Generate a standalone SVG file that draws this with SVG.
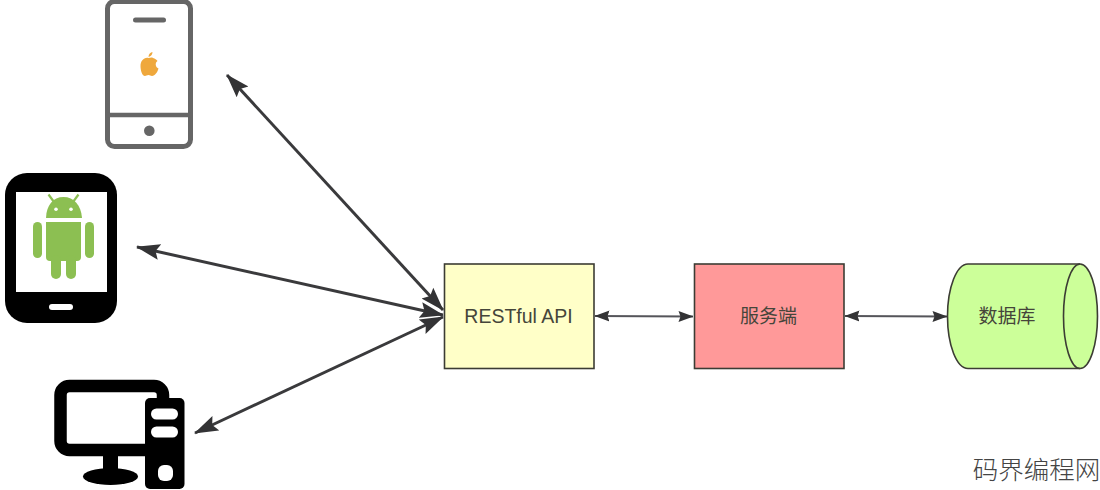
<svg xmlns="http://www.w3.org/2000/svg" width="1100" height="490" viewBox="0 0 1100 490">
<style>
.lbl{font-family:"Liberation Sans","Noto Sans CJK SC",sans-serif;fill:#45453a;text-anchor:middle}
.en{font-size:19.5px}
.cn{font-size:19px}
.box{stroke:#3c3c34;stroke-width:1.6}
.con{stroke:#3a3a3c;fill:none}
.thick{stroke-width:3}
.thin{stroke-width:1.8;stroke:#55555a}
.green{fill:#8cbf52}
</style>
<defs>
<marker id="big" viewBox="0 0 24 18" refX="23" refY="9" markerWidth="24" markerHeight="18" markerUnits="userSpaceOnUse" orient="auto-start-reverse"><path d="M0 1L24 9L0 17L4 9Z" fill="#333335"/></marker>
<marker id="small" viewBox="0 0 15 12" refX="14.500" refY="6" markerWidth="15" markerHeight="12" markerUnits="userSpaceOnUse" orient="auto-start-reverse"><path d="M0 0.500L15 6L0 11.500L2 6Z" fill="#333335"/></marker>
</defs>
<rect width="1100" height="490" fill="#fff"/>
<g id="connectors">
<line class="con thick" x1="227" y1="75" x2="443" y2="310" marker-start="url(#big)" marker-end="url(#big)"/>
<line class="con thick" x1="137" y1="247" x2="443" y2="315" marker-start="url(#big)" marker-end="url(#big)"/>
<line class="con thick" x1="195" y1="433" x2="443" y2="317" marker-start="url(#big)" marker-end="url(#big)"/>
<line class="con thin" x1="595" y1="316" x2="693" y2="316.500" marker-start="url(#small)" marker-end="url(#small)"/>
<line class="con thin" x1="845" y1="316" x2="947" y2="316.500" marker-start="url(#small)" marker-end="url(#small)"/>
</g>
<g id="iphone">
<rect x="107.500" y="1.500" width="83" height="145" rx="7" fill="#fff" stroke="#666" stroke-width="5"/>
<line x1="107" y1="115" x2="191" y2="115" stroke="#666" stroke-width="4.500"/>
<rect x="133" y="17.500" width="33" height="5" rx="2.500" fill="#666"/>
<circle cx="149.300" cy="130.700" r="5.300" fill="#666"/>
<path d="M148.500 58C150 58 151.500 57 153 58C155 58.500 156.500 59.500 157.500 61C155 62.500 155 67 158.500 68.500C157.500 72 155 76 152 76C150.500 76 150 75 148.500 75C147 75 146 76 145 76C142 76 140.500 70 140.500 66C140.500 61 144 57 148.500 58ZM148.500 57C148.500 54 150.500 52.500 152.500 52C152.500 54.500 151 56.500 148.500 57Z" fill="#efa83c"/>
</g>
<g id="android">
<rect x="5" y="173" width="112" height="150" rx="22" fill="#000"/>
<rect x="16" y="192" width="91" height="100" fill="#fff"/>
<rect x="49" y="304" width="24" height="6" rx="3" fill="#fff"/>
<path class="green" d="M46 218C46.500 205 53 197 63.500 197C74 197 81 205 82 218Z"/>
<line x1="54" y1="202" x2="48.500" y2="194.500" stroke="#8cbf52" stroke-width="2.200"/>
<line x1="73" y1="202" x2="78.500" y2="194.500" stroke="#8cbf52" stroke-width="2.200"/>
<circle cx="56" cy="209.300" r="1.800" fill="#fff"/>
<circle cx="71" cy="209.300" r="1.800" fill="#fff"/>
<path class="green" d="M46 222H81V257Q81 261 77 261H50Q46 261 46 257Z"/>
<rect class="green" x="33" y="222" width="9" height="36" rx="4.500"/>
<rect class="green" x="85" y="222" width="9" height="36" rx="4.500"/>
<rect class="green" x="51" y="255" width="10" height="24" rx="5"/>
<rect class="green" x="66" y="255" width="10" height="24" rx="5"/>
</g>
<g id="desktop">
<rect x="60.500" y="386" width="102.500" height="64" rx="9" fill="#fff" stroke="#000" stroke-width="12.500"/>
<rect x="103" y="456" width="15" height="16" fill="#000"/>
<ellipse cx="110.500" cy="476.500" rx="27.500" ry="8.500" fill="#000"/>
<rect x="145" y="398" width="39.500" height="91" rx="5" fill="#000"/>
<rect x="151" y="408.500" width="27" height="11" rx="5.500" fill="#fff"/>
<rect x="151" y="426.500" width="27" height="11" rx="5.500" fill="#fff"/>
<rect x="158" y="465" width="15" height="16" rx="6" fill="#fff"/>
</g>
<g id="restful">
<rect class="box" x="444.500" y="264" width="149.500" height="104.500" fill="#ffffc8"/>
<text class="lbl en" x="518.500" y="323">RESTful API</text>
</g>
<g id="server">
<rect class="box" x="694.500" y="264" width="149.500" height="104.500" fill="#ff9999"/>
<text class="lbl cn" x="768.500" y="322.500">服务端</text>
</g>
<g id="database">
<path class="box" d="M968 264H1080A17.500 52.250 0 0 1 1080 368.500H968A20.500 52.250 0 0 1 968 264Z" fill="#ccff99"/>
<path class="box" d="M1080 264A16.500 52.250 0 0 0 1080 368.500" fill="none"/>
<text class="lbl cn" x="1007" y="322.500">数据库</text>
</g>
<text id="watermark" x="1036.500" y="479" font-family="'Noto Sans CJK SC',sans-serif" font-size="25.500" font-weight="300" fill="#444" text-anchor="middle">码界编程网</text>
</svg>
